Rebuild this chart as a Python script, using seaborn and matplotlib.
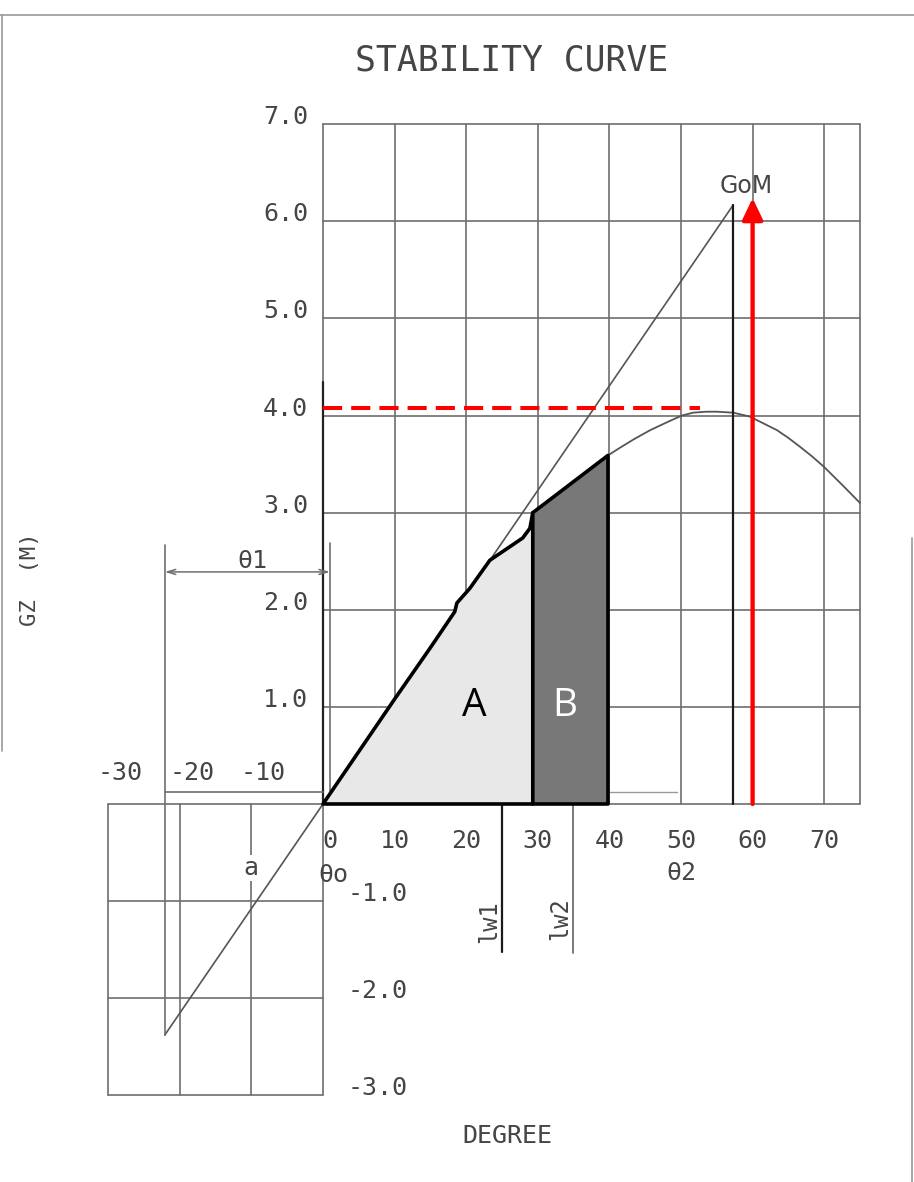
import numpy as np
import seaborn as sns
import matplotlib.pyplot as plt
from matplotlib.lines import Line2D

# ---- data -------------------------------------------------------------
# righting-lever (GZ) curve, heel angle in degrees / GZ in metres
heel_deg = [0, 5, 10, 15, 18.4, 18.7, 20.5, 23.3, 25.1, 27.9, 28.9, 29.3,
            39.8, 41.5, 43.5, 45.7, 48.0, 50.1, 51.7, 53.5, 55.0, 57.3, 59.6,
            61.5, 63.4, 65.0, 66.6, 68.3, 70.0, 72.6, 75.0]
gz_m = [0, 0.54, 1.08, 1.61, 1.98, 2.07, 2.22, 2.51, 2.60, 2.74, 2.84, 3.00,
        3.59, 3.67, 3.76, 3.85, 3.93, 4.00, 4.03, 4.04, 4.04, 4.03, 3.99,
        3.92, 3.85, 3.77, 3.68, 3.58, 3.47, 3.28, 3.10]

# initial metacentric height line (GoM at 57.3 deg = 1 rad)
gm_line_deg = [-22.1, 57.3]
gm_line_gz = [-2.38, 6.17]
gom_deg, gom_m = 57.3, 6.17

# areas under the curve
area_a = (0.0, 29.3)
area_b = (29.3, 39.8)

# heeling-lever marks and limits
theta1_deg = -22.1
lw1_deg, lw2_deg = 25.0, 34.9
max_gz_level = 4.08
arrow_deg, arrow_top = 60.0, 6.24

# grid / tick labels
x_ticks_pos = [0, 10, 20, 30, 40, 50, 60, 70]
x_ticks_neg = [-30, -20, -10]
y_ticks_pos = [1.0, 2.0, 3.0, 4.0, 5.0, 6.0, 7.0]
y_ticks_neg = [-1.0, -2.0, -3.0]
x_max = 75

# ---- figure -----------------------------------------------------------
sns.set_theme(style="white")
plt.rcParams['font.family'] = ['DejaVu Sans Mono', 'DejaVu Sans']

fig = plt.figure(figsize=(9.14, 11.82), dpi=100)
ax = fig.add_axes([0, 0, 1, 1])
ax.set_xlim(-45.11, 82.54)
ax.set_ylim(-3.893, 8.28)
ax.axis('off')

grid_c = '#6e6e6e'
text_c = '#454545'
glw = 1.2

# upper grid
for x in x_ticks_pos + [x_max]:
    ax.plot([x, x], [0, 7], color=grid_c, lw=glw, zorder=1)
for y in [0] + y_ticks_pos:
    ax.plot([0, x_max], [y, y], color=grid_c, lw=glw, zorder=1)
# darker stretch of the zero axis
ax.plot([0, 0], [0, 4.35], color='#222222', lw=1.6, zorder=1)

# lower-left grid
for x in x_ticks_neg + [0]:
    ax.plot([x, x], [-3, 0], color=grid_c, lw=glw, zorder=1)
for y in [0] + y_ticks_neg:
    ax.plot([-30, 0], [y, y], color=grid_c, lw=glw, zorder=1)

# GM line and GZ curve
sns.lineplot(x=gm_line_deg, y=gm_line_gz, ax=ax, color='#555555', lw=1.2, zorder=2)
sns.lineplot(x=heel_deg, y=gz_m, ax=ax, color='#555555', lw=1.3, zorder=2)
ax.plot([gom_deg, gom_deg], [0, gom_m], color='#1a1a1a', lw=1.6, zorder=2)

# theta1 dimension
ax.plot([theta1_deg, theta1_deg], [2.67, gm_line_gz[0]], color=grid_c, lw=glw, zorder=2)
ax.plot([0.98, 0.98], [2.69, 0], color=grid_c, lw=glw, zorder=2)
ax.plot([theta1_deg, 0], [0.12, 0.12], color=grid_c, lw=glw, zorder=2)
ax.annotate('', xy=(theta1_deg, 2.39), xytext=(0.98, 2.39),
            arrowprops=dict(arrowstyle='<->,head_length=0.5,head_width=0.15',
                            color=grid_c, lw=1.1, shrinkA=0, shrinkB=0))
ax.plot([40, 49.5], [0.12, 0.12], color='#9a9a9a', lw=1.0, zorder=1)

# heeling lever marks
ax.plot([lw1_deg, lw1_deg], [0, -1.52], color='#1a1a1a', lw=1.6, zorder=2)
ax.plot([lw2_deg, lw2_deg], [0, -1.53], color=grid_c, lw=1.3, zorder=2)

# shaded areas A and B
hx = np.array(heel_deg)
hy = np.array(gz_m)
ma = (hx >= area_a[0]) & (hx <= area_a[1])
mb = (hx >= area_b[0]) & (hx <= area_b[1])
ax.fill(np.r_[hx[ma], area_a[1], area_a[0]], np.r_[hy[ma], 0, 0],
        facecolor='#e8e8e8', edgecolor='black', lw=2.6, joinstyle='round', zorder=4)
ax.fill(np.r_[area_b[0], hx[mb], area_b[1]], np.r_[0, hy[mb], 0],
        facecolor='#787878', edgecolor='black', lw=2.6, joinstyle='round', zorder=4)
ax.text(21.1, 1.01, 'A', fontsize=28, family='Open Sans', color='black',
        ha='center', va='center', zorder=5)
ax.text(33.8, 1.01, 'B', fontsize=28, family='Open Sans', color='white',
        ha='center', va='center', zorder=5)

# red markers
ax.plot([0, 52.7], [max_gz_level, max_gz_level], color='#ff0000', lw=2.9,
        dashes=(4.75, 2.25), zorder=6)
ax.annotate('', xy=(arrow_deg, arrow_top), xytext=(arrow_deg, 0),
            arrowprops=dict(arrowstyle='-|>,head_length=0.65,head_width=0.31',
                            color='#ff0000', lw=3.1, mutation_scale=20,
                            shrinkA=0, shrinkB=0), zorder=6)

# ---- text -------------------------------------------------------------
fs = 18
ax.text(26.4, 7.66, 'STABILITY CURVE', fontsize=25, color=text_c,
        ha='center', va='center')
for y in y_ticks_pos:
    ax.text(-2.1, y, f'{y:.1f}', fontsize=fs, color=text_c, ha='right', va='baseline')
for y in y_ticks_neg:
    ax.text(3.5, y, f'{y:.1f}', fontsize=fs, color=text_c, ha='left', va='baseline')
for x in x_ticks_pos:
    xp = 1.0 if x == 0 else x
    ax.text(xp, -0.45, f'{x}', fontsize=fs, color=text_c, ha='center', va='baseline')
for x in x_ticks_neg:
    ax.text(x + 1.7, 0.25, f'{x}', fontsize=fs, color=text_c, ha='center', va='baseline')

ax.text(-9.9, 2.43, 'θ1', fontsize=fs, color=text_c, ha='center', va='baseline')
ax.text(-0.7, -0.80, 'θo', fontsize=fs, color=text_c, ha='left', va='baseline')
ax.text(50.0, -0.78, 'θ2', fontsize=fs, color=text_c, ha='center', va='baseline')
ax.text(-10.05, -0.73, 'a', fontsize=fs, color=text_c, ha='center', va='baseline',
        bbox=dict(facecolor='white', edgecolor='none', pad=0.5), zorder=3)
ax.text(59.1, 6.29, 'GoM', fontsize=17, family='DejaVu Sans', color=text_c,
        ha='center', va='baseline')
ax.text(23.2, -1.215, 'lw1', fontsize=17, color=text_c, rotation=90,
        ha='center', va='center')
ax.text(33.1, -1.18, 'lw2', fontsize=17, color=text_c, rotation=90,
        ha='center', va='center')
ax.text(25.7, -3.49, 'DEGREE', fontsize=fs, color=text_c, ha='center', va='baseline')
ax.text(-40.9, 2.32, 'GZ  (M)', fontsize=16, color=text_c, rotation=90,
        ha='center', va='center')

# sheet edges
for xs, ys in [([0, 1], [0.9873, 0.9873]), ([0.002, 0.002], [0.9873, 0.365]),
               ([0.998, 0.998], [0.545, 0.0])]:
    fig.add_artist(Line2D(xs, ys, color='#9a9a9a', lw=1.2))

fig.savefig('out.png', dpi=100)
